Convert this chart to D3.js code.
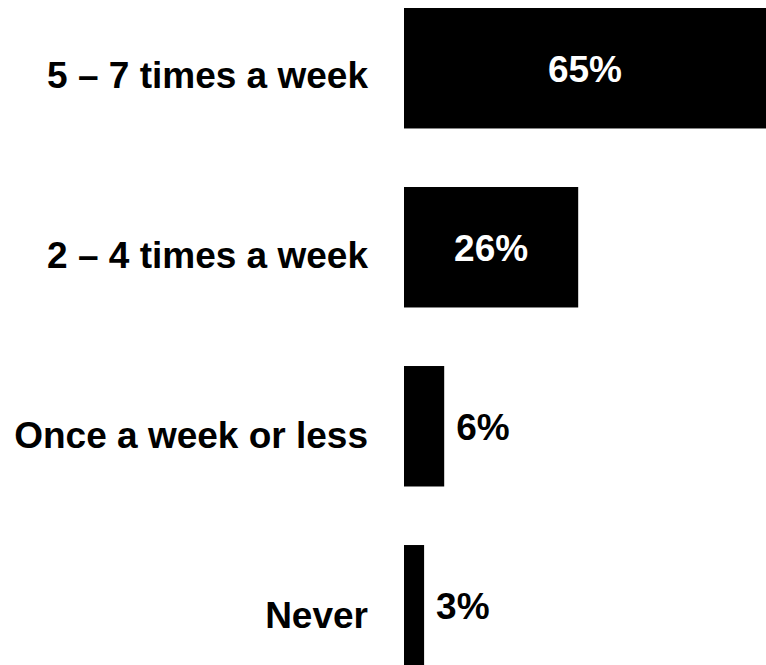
<!DOCTYPE html>
<html>
<head>
<meta charset="utf-8">
<script src="https://cdn.jsdelivr.net/npm/d3@7"></script>
<style>
  html, body { margin: 0; padding: 0; background: #fff; }
  svg { display: block; }
</style>
</head>
<body>
<div id="chart"></div>
<script>
const categories = ["5 – 7 times a week", "2 – 4 times a week", "Once a week or less", "Never"];
const values = [65, 26, 6, 3];
const valueLabels = ["65%", "26%", "6%", "3%"];

const W = 766, H = 665;
const data = categories.map((c, i) => ({ cat: c, value: values[i], label: valueLabels[i] }));

const svg = d3.select("#chart").append("svg")
  .attr("width", W).attr("height", H)
  .style("font-family", "'Liberation Sans', Arial, Helvetica, sans-serif")
  .style("font-weight", "bold");

const x0 = 404;
const x = d3.scaleLinear().domain([0, 100]).range([x0, x0 + 670]);
const y = d3.scaleBand().domain(categories).range([8, 665.5]).paddingInner(0.327).paddingOuter(0);
const yLab = d3.scalePoint().domain(categories).range([88.3, 628.3]);

svg.append("g").selectAll("rect").data(data).join("rect")
  .attr("x", x(0))
  .attr("y", d => y(d.cat))
  .attr("width", d => x(d.value) - x(0))
  .attr("height", y.bandwidth())
  .attr("fill", "#000");

svg.append("g").selectAll("text").data(data).join("text")
  .attr("x", 368)
  .attr("y", d => yLab(d.cat))
  .attr("text-anchor", "end")
  .attr("font-size", 37)
  .attr("fill", "#000")
  .text(d => d.cat);

svg.append("g").selectAll("text").data(data).join("text")
  .each(function(d) {
    const end = x(d.value);
    const wBar = end - x(0);
    const t = d3.select(this);
    const cy = y(d.cat) + y.bandwidth() / 2 + 14;
    if (wBar > 100) {
      const visEnd = Math.min(end, W);
      t.attr("x", (x(0) + visEnd) / 2).attr("text-anchor", "middle").attr("fill", "#fff");
    } else {
      t.attr("x", end + 12).attr("text-anchor", "start").attr("fill", "#000");
    }
    t.attr("y", cy);
  })
  .attr("font-size", 37)
  .text(d => d.label);
</script>
</body>
</html>
